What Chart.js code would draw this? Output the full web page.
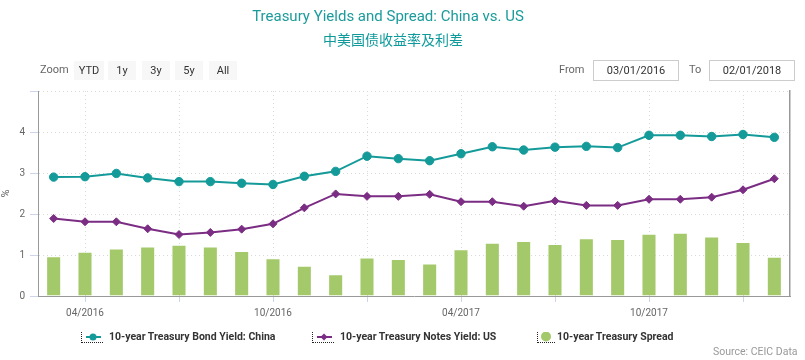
<!DOCTYPE html>
<html>
<head>
<meta charset="utf-8">
<script src="https://cdn.jsdelivr.net/npm/chart.js@4.4.0/dist/chart.umd.min.js"></script>
<style>
  html, body { margin: 0; padding: 0; background: #fff; }
  #wrap { position: relative; width: 805px; height: 360px; overflow: hidden; font-family: Roboto, sans-serif; }
  #chart { position: absolute; left: 0; top: 0; }
  .abs { position: absolute; white-space: nowrap; }
  .title { font-size: 15px; color: #1b9b9b; transform: translateX(-50%); }
  .subtitle { font-family: "Noto Sans CJK SC", sans-serif; font-size: 14px; color: #0e9a9a; transform: translateX(-50%); }
  .lbl { font-size: 11px; color: #666; top: 63px; line-height: 14px; }
  .btn { top: 61px; height: 19px; line-height: 19px; background: #f7f7f7; font-size: 11px; color: #333; text-align: center; }
  .inp { top: 60px; height: 19px; line-height: 19px; border: 1px solid #ccc; font-size: 11px; color: #333; text-align: center; }
  .icon { top: 332px; width: 21px; height: 10px; border-left: 1px dotted #222; border-bottom: 1px dotted #222; }
  .icon svg { position: absolute; left: 0; top: 0; }
  .leg { top: 330px; font-size: 10.5px; font-weight: 700; color: #333; line-height: 14px; }
  .src { left: 713px; top: 345px; font-size: 10.5px; color: #999; line-height: 14px; }
</style>
</head>
<body>
<div id="wrap">
  <canvas id="chart" width="805" height="360"></canvas>

  <div class="abs title" style="left:388px; top:7px;">Treasury Yields and Spread: China vs. US</div>
  <div class="abs subtitle" style="left:393px; top:29px;">中美国债收益率及利差</div>

  <div class="abs lbl" style="left:40px;">Zoom</div>
  <div class="abs btn" style="left:74px; width:30px;">YTD</div>
  <div class="abs btn" style="left:108px; width:28px;">1y</div>
  <div class="abs btn" style="left:142px; width:28px;">3y</div>
  <div class="abs btn" style="left:175px; width:28px;">5y</div>
  <div class="abs btn" style="left:209px; width:28px;">All</div>

  <div class="abs lbl" style="left:559px;">From</div>
  <div class="abs inp" style="left:593px; width:84px;">03/01/2016</div>
  <div class="abs lbl" style="left:689px;">To</div>
  <div class="abs inp" style="left:709px; width:84px;">02/01/2018</div>

  <div class="abs icon" style="left:81px;">
    <svg width="22" height="11"><line x1="4" y1="5" x2="19" y2="5" stroke="#159a9a" stroke-width="2"/><circle cx="11" cy="5" r="3.5" fill="#159a9a"/></svg>
  </div>
  <div class="abs leg" style="left:109px;">10-year Treasury Bond Yield: China</div>

  <div class="abs icon" style="left:312px;">
    <svg width="22" height="11"><line x1="4" y1="5" x2="19" y2="5" stroke="#7b2d84" stroke-width="2"/><polygon points="11,1.5 14.5,5 11,8.5 7.5,5" fill="#7b2d84"/></svg>
  </div>
  <div class="abs leg" style="left:340px;">10-year Treasury Notes Yield: US</div>

  <div class="abs icon" style="left:537px; width:17px;">
    <svg width="18" height="11"><circle cx="8" cy="4.5" r="5" fill="#a4c96a"/></svg>
  </div>
  <div class="abs leg" style="left:557px;">10-year Treasury Spread</div>

  <div class="abs src">Source: CEIC Data</div>
</div>

<script>
const months = [
  "03/2016", "04/2016", "05/2016", "06/2016", "07/2016", "08/2016",
  "09/2016", "10/2016", "11/2016", "12/2016", "01/2017", "02/2017",
  "03/2017", "04/2017", "05/2017", "06/2017", "07/2017", "08/2017",
  "09/2017", "10/2017", "11/2017", "12/2017", "01/2018", "02/2018"
];
const chinaYield = [
  2.90, 2.91, 2.99, 2.88, 2.79, 2.79, 2.75, 2.72, 2.92, 3.04, 3.41, 3.35,
  3.30, 3.47, 3.64, 3.56, 3.63, 3.65, 3.62, 3.92, 3.92, 3.89, 3.94, 3.87
];
const usYield = [
  1.89, 1.81, 1.81, 1.64, 1.50, 1.55, 1.63, 1.76, 2.15, 2.49, 2.43, 2.43,
  2.48, 2.30, 2.30, 2.19, 2.32, 2.21, 2.21, 2.36, 2.36, 2.41, 2.59, 2.86
];
const spread = [
  0.97, 1.08, 1.16, 1.21, 1.25, 1.21, 1.10, 0.92, 0.74, 0.53, 0.94, 0.90,
  0.79, 1.14, 1.30, 1.34, 1.27, 1.41, 1.39, 1.52, 1.54, 1.45, 1.32, 0.96
];
const yTickValues = [0, 1, 2, 3, 4];

const chinaColor = "#159a9a";
const usColor = "#7b2d84";
const spreadColor = "#a4c96a";

// quarterly grid lines, half-year labels
const isGridMonth = (i) => i % 3 === 1;
const isLabelMonth = (i) => i % 6 === 1;

new Chart(document.getElementById("chart"), {
  type: "bar",
  data: {
    labels: months,
    datasets: [
      {
        type: "line",
        label: "10-year Treasury Bond Yield: China",
        data: chinaYield,
        borderColor: chinaColor,
        backgroundColor: chinaColor,
        borderWidth: 2,
        pointStyle: "circle",
        pointRadius: 4.2,
        pointBorderWidth: 1,
        tension: 0,
        order: 1,
      },
      {
        type: "line",
        label: "10-year Treasury Notes Yield: US",
        data: usYield,
        borderColor: usColor,
        backgroundColor: usColor,
        borderWidth: 2,
        pointStyle: "rectRot",
        pointRadius: 4,
        pointBorderWidth: 1,
        tension: 0,
        order: 1,
      },
      {
        label: "10-year Treasury Spread",
        data: spread,
        backgroundColor: spreadColor,
        borderColor: "rgba(255,255,255,0.55)",
        borderWidth: 1,
        barPercentage: 0.48,
        categoryPercentage: 1,
        order: 2,
      },
    ],
  },
  options: {
    responsive: false,
    animation: false,
    devicePixelRatio: 1,
    layout: { padding: { top: 91, right: 15, bottom: 34, left: 0 } },
    plugins: { legend: { display: false }, tooltip: { enabled: false } },
    scales: {
      x: {
        offset: true,
        grid: {
          offset: false,
          color: (ctx) => (isGridMonth(ctx.index) ? "#d9d9d9" : "transparent"),
          tickColor: (ctx) => (isGridMonth(ctx.index) ? "#ccd6eb" : "transparent"),
          tickLength: 6,
          tickBorderDash: [],
        },
        border: { color: "#999", width: 1, dash: [1, 3] },
        ticks: {
          autoSkip: false,
          maxRotation: 0,
          padding: 5,
          color: "#666",
          font: { family: "Roboto", size: 10 },
          callback: function (value, index) {
            return isLabelMonth(index) ? months[index] : "";
          },
        },
        afterFit: (scale) => { scale.height = 30; },
      },
      y: {
        min: 0,
        max: 5,
        grid: {
          color: "#d9d9d9",
          tickColor: "#ccd6eb",
          tickLength: 8,
          tickBorderDash: [],
        },
        border: { color: "#999", width: 1, dash: [1, 3] },
        ticks: {
          stepSize: 1,
          padding: 5,
          color: "#666",
          font: { family: "Roboto", size: 10 },
          callback: (v) => (yTickValues.includes(v) ? String(v) : ""),
        },
        title: {
          display: true,
          text: "%",
          color: "#666",
          padding: 0,
          font: { family: "Roboto", size: 11 },
        },
        afterFit: (scale) => { scale.width = 38; },
      },
      yRight: {
        position: "right",
        grid: { drawOnChartArea: false, drawTicks: false },
        ticks: { display: false },
        border: { color: "#999", width: 1.5 },
        afterFit: (scale) => { scale.width = 0; },
      },
    },
  },
});
</script>
</body>
</html>
